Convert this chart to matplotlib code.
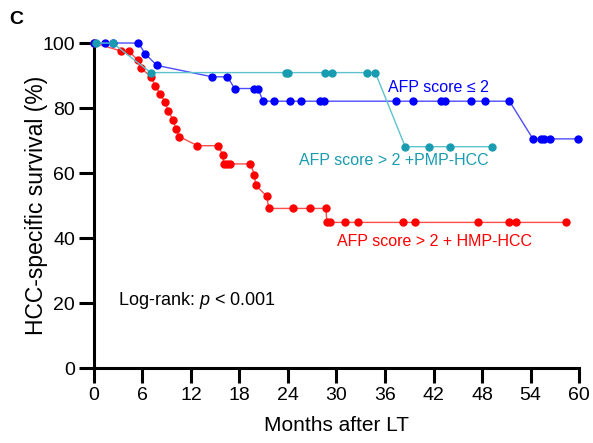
import matplotlib
matplotlib.use("Agg")
import matplotlib.pyplot as plt

plt.rcParams['font.family'] = ['Liberation Sans', 'DejaVu Sans']
plt.rcParams['mathtext.fontset'] = 'custom'
plt.rcParams['mathtext.rm'] = 'Liberation Sans'
plt.rcParams['mathtext.it'] = 'Liberation Sans:italic'

# Kaplan-Meier points (months, survival %)
blue_x = [0, 1.4, 2.4, 5.5, 6.35, 7.8, 14.6, 16.5, 17.4, 19.8, 20.3, 20.9, 22.3, 24.2, 25.6,
          27.9, 28.5, 37.3, 39.5, 42.9, 43.4, 46.6, 48.4, 51.4, 54.3, 55.3, 55.7, 56.4, 59.9]
blue_y = [100, 100, 100, 100, 96.6, 93.1, 89.6, 89.6, 86.0, 86.0, 86.0, 82.1, 82.1, 82.1, 82.1,
          82.1, 82.1, 82.1, 82.1, 82.1, 82.1, 82.1, 82.1, 82.1, 70.5, 70.5, 70.5, 70.5, 70.5]

cyan_x = [0.3, 2.3, 7.0, 23.8, 24.0, 28.6, 29.4, 33.8, 34.8, 38.5, 41.4, 44.0, 49.2]
cyan_y = [100, 100, 90.9, 90.9, 90.9, 90.9, 90.9, 90.9, 90.9, 68.1, 68.1, 68.1, 68.1]

red_x = [0, 3.4, 4.3, 5.4, 5.85, 7.05, 7.55, 8.2, 8.8, 9.2, 9.75, 10.15, 10.55, 12.8, 15.4,
         15.9, 16.05, 16.4, 16.8, 19.35, 19.85, 20.0, 21.4, 21.6, 24.6, 26.7, 28.7, 28.8, 29.2,
         31.1, 32.6, 38.2, 39.7, 47.5, 51.3, 52.2, 58.4]
red_y = [100, 97.5, 97.5, 94.8, 92.2, 89.6, 86.9, 84.4, 81.7, 79.1, 76.4, 73.6, 71.2, 68.4, 68.4,
         65.6, 62.8, 62.8, 62.8, 62.8, 59.5, 56.2, 52.8, 49.1, 49.1, 49.1, 49.1, 44.8, 44.8,
         44.8, 44.8, 44.8, 44.8, 44.8, 44.8, 44.8, 44.8]

fig = plt.figure(figsize=(5.93, 4.43), dpi=100)
ax = fig.add_axes([0.1585, 0.1693, 0.8179, 0.7336])

ax.plot(red_x, red_y, color='#ff4d4d', lw=1, marker='o', ms=5,
        mfc='#ff0000', mec='#ff0000', clip_on=False, zorder=3)
ax.plot(blue_x, blue_y, color='#4d4dff', lw=1, marker='o', ms=5,
        mfc='#0000ff', mec='#0000ff', clip_on=False, zorder=4)
ax.plot(cyan_x, cyan_y, color='#5cc3cf', lw=1, marker='o', ms=5,
        mfc='#1a9cb0', mec='#1a9cb0', clip_on=False, zorder=5)

ax.text(42.6, 86.2, 'AFP score ≤ 2', color='#0000ff', fontsize=11.5, ha='center', va='center')
ax.text(37.1, 64.0, 'AFP score > 2 +PMP-HCC', color='#1a9cb0', fontsize=11.5, ha='center', va='center')
ax.text(42.1, 38.8, 'AFP score > 2 + HMP-HCC', color='#ff0000', fontsize=11.5, ha='center', va='center')
ax.text(3.0, 20.9, 'Log-rank: $\\mathit{p}$ < 0.001', color='black', fontsize=13, ha='left', va='center')

ax.set_xlim(0, 60)
ax.set_ylim(0, 100)
ax.set_xticks(range(0, 61, 6))
ax.set_yticks(range(0, 101, 20))
for s in ['top', 'right']:
    ax.spines[s].set_visible(False)
for s in ['left', 'bottom']:
    ax.spines[s].set_linewidth(2.2)
ax.tick_params(length=10.5, width=2.2, labelsize=14, pad=3)
ax.set_xlabel('Months after LT', fontsize=15, labelpad=9)
ax.set_ylabel('HCC-specific survival (%)', fontsize=16.5, labelpad=-4)

fig.text(0.015, 0.957, 'C', fontsize=14, fontweight='bold', ha='left', va='center')

fig.savefig('out.png', dpi=100)
